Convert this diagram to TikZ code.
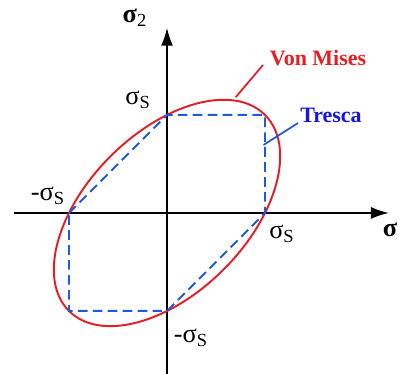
\documentclass[tikz,border=0pt]{standalone}
\usepackage{fontspec}
\setmainfont{Liberation Serif}
\usetikzlibrary{arrows.meta,calc}
\definecolor{vmred}{RGB}{228,30,36}
\definecolor{trblue}{RGB}{30,90,225}
\definecolor{txblue}{RGB}{20,20,230}

\begin{document}
\begin{tikzpicture}[x=1.96cm,y=1.96cm,
  axis/.style={line width=1.1pt,-{Latex[length=3.6mm,width=2.4mm]}},
  lbl/.style={font=\fontsize{15}{17}\selectfont,inner sep=1pt},
  tag/.style={font=\fontsize{12.5}{14}\selectfont\bfseries,inner sep=1pt}]
  \useasboundingbox (-1.704,-1.643) rectangle (2.408,2.173);
  % axes
  \coordinate (xs) at (-1.56,0);
  \coordinate (xe) at (2.265,0);
  \coordinate (ys) at (0,-1.643);
  \coordinate (ye) at (0,1.89);
  \draw[axis] (xs) -- (xe);
  \draw[axis] (ys) -- (ye);
  % von Mises ellipse
  \draw[vmred,line width=1.1pt,rotate=45] (0,0) ellipse ({sqrt(2)} and {sqrt(2/3)});
  % Tresca hexagon
  \coordinate (tl) at (-1,0);
  \coordinate (tt) at (0,1);
  \coordinate (ttr) at (1,1);
  \coordinate (tr) at (1,0);
  \coordinate (tb) at (0,-1);
  \coordinate (tbl) at (-1,-1);
  \draw[trblue,line width=1.1pt,dash pattern=on 5.5pt off 3pt]
    (tl) -- (tt) -- (ttr) -- (tr) -- (tb) -- (tbl) -- cycle;
  % axis labels
  \node[lbl] (sx) at (2.276,-0.173) {\textbf{σ}};
  \node[lbl] (sy) at (-0.327,1.99) {\textbf{σ}\textsubscript{2}};
  \node[lbl] (st) at (-0.296,1.153) {σ\textsubscript{S}};
  \node[lbl] (sl) at (-1.214,0.173) {-σ\textsubscript{S}};
  \node[lbl] (sr) at (1.173,-0.214) {σ\textsubscript{S}};
  \node[lbl] (sb) at (0.245,-1.276) {-σ\textsubscript{S}};
  % criterion tags
  \node[tag,vmred] (vm) at (1.541,1.58) {Von Mises};
  \node[tag,txblue] (tc) at (1.673,1.0) {Tresca};
  \coordinate (vmleg) at (0.98,1.51);
  \coordinate (vmpt) at (0.70,1.18);
  \coordinate (tcleg) at (1.337,0.918);
  \coordinate (tcpt) at (0.985,0.694);
  \draw[vmred,line width=1pt] (vmleg) -- (vmpt);
  \draw[trblue,line width=1pt] (tcleg) -- (tcpt);
\end{tikzpicture}
\end{document}
